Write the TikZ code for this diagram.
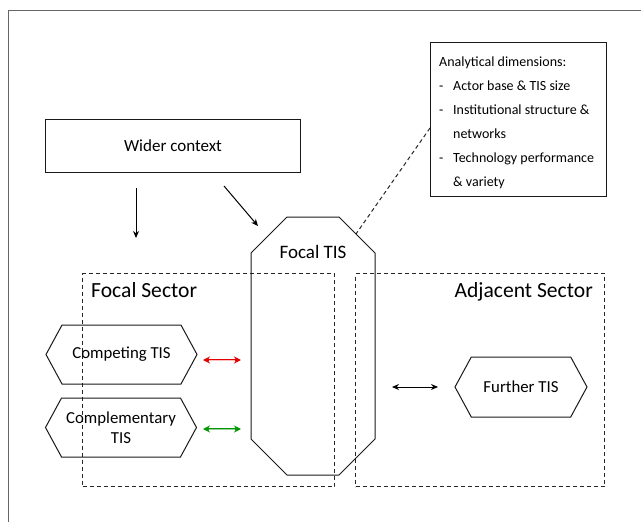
\documentclass[tikz,border=0pt]{standalone}
\usepackage{fontspec}
\setmainfont{Carlito}
\usetikzlibrary{arrows.meta,shapes.symbols}
\newcommand{\dimbul}{\hbox to 14pt{-\hfil}}
\newcommand{\dimind}{\hbox to 14pt{\hfil}}
\begin{document}
\begin{tikzpicture}[x=1pt,y=-1pt,
  box/.style={draw=black!90, line width=1pt, inner sep=0pt},
  sector/.style={draw=black!85, line width=1pt, dash pattern=on 4pt off 3pt},
  hexa/.style={draw=black!90, line width=1pt, signal, signal to=west and east, signal pointer angle=123, minimum width=151pt, minimum height=59pt, inner sep=0pt, align=center, font=\fontsize{16.8}{20.5}\selectfont},
  arr/.style={-{Stealth[length=7pt,width=6pt]}, line width=1pt},
  darr/.style={{Stealth[length=7pt,width=6pt]}-{Stealth[length=7pt,width=6pt]}, line width=1pt},
  big/.style={font=\fontsize{21.6}{26}\selectfont, inner sep=0pt},
]
\useasboundingbox (0,0) rectangle (641,522);
% outer frame
\draw[black!60, line width=1pt] (8,522) -- (8,10) -- (641,10);

% sectors
\node[sector, minimum width=252pt, minimum height=213pt, anchor=north west] (fs) at (82,273) {};
\node[sector, minimum width=249pt, minimum height=213pt, anchor=north west] (as) at (355,273) {};
\node[big, anchor=base west] (fslab) at (91,297) {Focal Sector};
\node[big, anchor=base east] (aslab) at (593,297) {Adjacent Sector};

% wider context
\node[box, minimum width=255pt, minimum height=53pt, anchor=north west, font=\fontsize{17}{20}\selectfont] (wc) at (45,119) {Wider context};

% analytical dimensions
\node[box, minimum width=176pt, minimum height=154pt, anchor=north west] (ad) at (430,42) {};
\node[anchor=north west, inner sep=0pt, font=\fontsize{14}{24}\selectfont, align=left] (adt) at (439,57) {%
Analytical dimensions:\\
\dimbul Actor base \& TIS size\\
\dimbul Institutional structure \&\\
\dimind networks\\
\dimbul Technology performance\\
\dimind \& variety};

% focal TIS octagon
\draw[black!90, line width=1pt] (287,217) -- (339,217) -- (375,253) -- (375,439) -- (339,475) -- (287,475) -- (251,439) -- (251,253) -- cycle;
\node[font=\fontsize{19}{23}\selectfont, inner sep=0pt] (ftis) at (313,252) {Focal TIS};
\coordinate (octne) at (356,234);
\coordinate (octnw) at (258,226);

% hexagons
\node[hexa] (comp) at (121.5,354.5) {Competing TIS};
\node[hexa] (compl) at (121,427.5) {Complementary\\TIS};
\node[hexa, minimum width=132pt, minimum height=60pt] (fur) at (521,387) {Further TIS};

% arrows
\coordinate (va) at (136,188);
\coordinate (vb) at (136,238);
\draw[arr] (va) -- (vb);
\coordinate (da) at (224,186);
\draw[arr] (da) -- (octnw);
\coordinate (adw) at (430,128);
\draw[black!85, line width=1pt, dash pattern=on 4pt off 3pt] (adw) -- (octne);

\coordinate (ra) at (203,360);
\coordinate (rb) at (241,360);
\draw[{Stealth[length=7pt,width=7pt]}-{Stealth[length=7pt,width=7pt]}, red!90!black, line width=2.6pt] (ra) -- (rb);
\draw[red!25, line width=0.9pt, shorten <=6pt, shorten >=6pt] (ra) -- (rb);
\coordinate (ga) at (203,429);
\coordinate (gb) at (241,429);
\draw[{Stealth[length=7pt,width=7pt]}-{Stealth[length=7pt,width=7pt]}, green!60!black, line width=2.6pt] (ga) -- (gb);
\draw[green!50!black!40, line width=0.9pt, shorten <=6pt, shorten >=6pt] (ga) -- (gb);

\coordinate (ba) at (392,387);
\coordinate (bb) at (438,387);
\draw[darr] (ba) -- (bb);
\end{tikzpicture}
\end{document}
